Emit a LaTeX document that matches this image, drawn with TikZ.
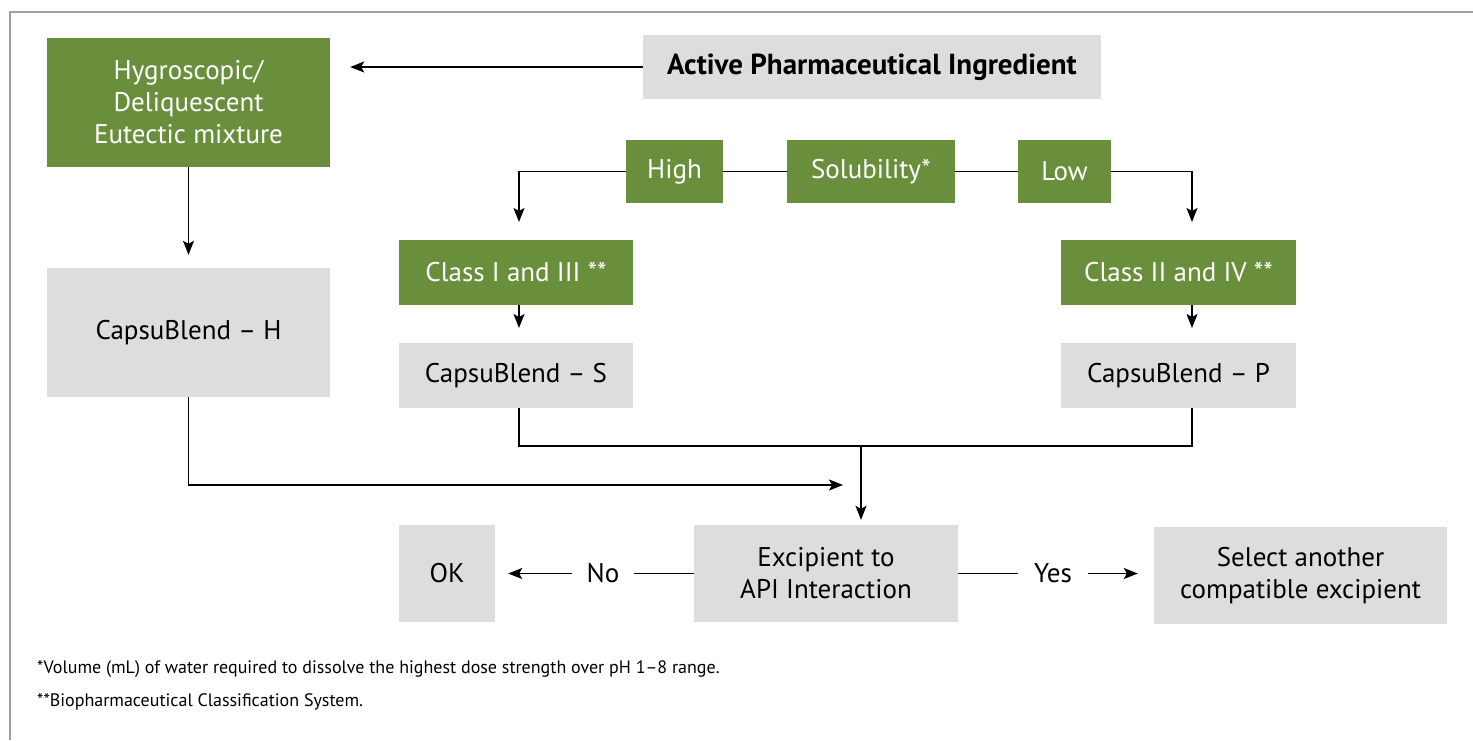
\documentclass[tikz,border=0pt]{standalone}
\usepackage{fontspec}
\setmainfont{PT Sans}
\usetikzlibrary{arrows.meta}
\definecolor{boxgreen}{HTML}{6A8F3C}
\definecolor{boxgray}{HTML}{DCDDDF}
\definecolor{framegray}{HTML}{A0A0A0}
\tikzset{
  base/.style={inner sep=0pt, align=center, font=\fontsize{27}{32}\selectfont},
  greenbox/.style={base, fill=boxgreen, text=white},
  graybox/.style={base, fill=boxgray, text=black},
  conn/.style={line width=1.4pt, black},
  arr/.style={conn, -{Stealth[length=14pt,width=11pt,inset=3pt]}},
  lbl/.style={base},
  foot/.style={anchor=west, inner sep=0pt, font=\fontsize{18}{21}\selectfont}
}
\begin{document}
\begin{tikzpicture}[x=1pt,y=-1pt]
\useasboundingbox (0,0) rectangle (1473,740);
\draw[framegray, line width=2pt] (10,740) -- (10,12) -- (1473,12);

\node[greenbox, minimum width=283pt, minimum height=129pt] (hyg) at (188.5,102.5) {Hygroscopic/\\Deliquescent\\Eutectic mixture};
\node[graybox, minimum width=458pt, minimum height=64pt, font=\fontsize{29}{34}\selectfont\bfseries] (api) at (872,67) {Active Pharmaceutical Ingredient};
\node[greenbox, minimum width=97pt, minimum height=63pt] (high) at (674.5,171.5) {High};
\node[greenbox, minimum width=168pt, minimum height=63pt] (sol) at (871,171.5) {Solubility*};
\node[greenbox, minimum width=93pt, minimum height=63pt] (low) at (1064.5,171.5) {Low};
\node[greenbox, minimum width=234pt, minimum height=65pt] (c13) at (516,272.5) {Class I and III **};
\node[greenbox, minimum width=235pt, minimum height=65pt] (c24) at (1178.5,272.5) {Class II and IV **};
\node[graybox, minimum width=234pt, minimum height=65pt] (csS) at (516,375.5) {CapsuBlend -- S};
\node[graybox, minimum width=235pt, minimum height=65pt] (csP) at (1178.5,375.5) {CapsuBlend -- P};
\node[graybox, minimum width=283pt, minimum height=129pt] (csH) at (188.5,332.5) {CapsuBlend -- H};
\node[graybox, minimum width=264pt, minimum height=97pt] (exc) at (826,573.5) {Excipient to\\API Interaction};
\node[graybox, minimum width=96pt, minimum height=97pt] (ok) at (447,573.5) {OK};
\node[graybox, minimum width=293pt, minimum height=97pt] (sel) at (1300.5,575.5) {Select another\\compatible excipient};
\node[lbl, inner xsep=14pt] (no) at (603,573.5) {No};
\node[lbl, inner xsep=16pt] (yes) at (1053,573.5) {Yes};

\coordinate (hl) at (519,171.5);
\coordinate (lr) at (1192,171.5);
\coordinate (mS) at (519,446);
\coordinate (mP) at (1192,446);
\coordinate (mid) at (861,446);
\coordinate (hEnd) at (843,485);

\draw[arr, shorten >=20pt] (api.west) -- (api.west -| hyg.east);
\draw[conn] (high.east) -- (sol.west);
\draw[conn] (sol.east) -- (low.west);
\draw[arr] (high.west) -- (hl) -- (519,222);
\draw[arr] (low.east) -- (lr) -- (1192,222);
\draw[arr, shorten >=15pt] (519,305) -- (519,343);
\draw[arr, shorten >=15pt] (1192,305) -- (1192,343);
\draw[arr, shorten >=13pt] (hyg.south) -- (csH.north);
\draw[conn] (519,408) -- (mS) -- (mP) -- (1192,408);
\draw[arr, shorten >=5pt] (mid) -- (mid |- exc.north);
\draw[arr] (csH.south) |- (hEnd);
\draw[conn] (exc.west) -- (exc.west -| no.east);
\draw[arr, shorten >=13pt] (no.west) -- (no.west -| ok.east);
\draw[conn] (exc.east) -- (exc.east -| yes.west);
\draw[arr, shorten >=16pt] (yes.east) -- (yes.east -| sel.west);

\node[foot] (f1) at (37,669) {*Volume (mL) of water required to dissolve the highest dose strength over pH 1--8 range.};
\node[foot] (f2) at (37,702) {**Biopharmaceutical Classification System.};
\end{tikzpicture}
\end{document}
